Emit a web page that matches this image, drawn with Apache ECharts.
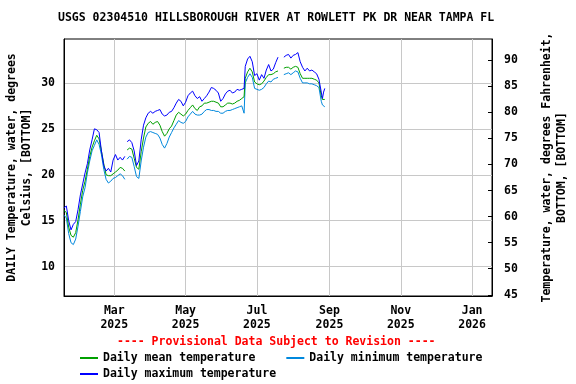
<!DOCTYPE html>
<html><head><meta charset="utf-8">
<script src="https://cdn.jsdelivr.net/npm/echarts@6/dist/echarts.min.js"></script>
<style>html,body{margin:0;padding:0;background:#fff}#c{width:576px;height:384px}</style>
</head><body><div id="c"></div>
<script>
const dates = ['2025-01-17','2025-01-19','2025-01-21','2025-01-23','2025-01-25','2025-01-27','2025-01-29','2025-01-31',
'2025-02-02','2025-02-04','2025-02-06','2025-02-08','2025-02-10','2025-02-12','2025-02-14','2025-02-16','2025-02-18','2025-02-20','2025-02-22','2025-02-24','2025-02-26','2025-02-28',
'2025-03-02','2025-03-04','2025-03-06','2025-03-08','2025-03-10','2025-03-11','2025-03-12','2025-03-14','2025-03-16','2025-03-18','2025-03-20','2025-03-22','2025-03-24','2025-03-26','2025-03-28','2025-03-30',
'2025-04-01','2025-04-03','2025-04-05','2025-04-07','2025-04-09','2025-04-11','2025-04-13','2025-04-15','2025-04-17','2025-04-19','2025-04-21','2025-04-23','2025-04-25','2025-04-27','2025-04-29',
'2025-05-01','2025-05-03','2025-05-05','2025-05-07','2025-05-09','2025-05-11','2025-05-13','2025-05-15','2025-05-17','2025-05-19','2025-05-21','2025-05-23','2025-05-25','2025-05-27','2025-05-29','2025-05-31',
'2025-06-02','2025-06-04','2025-06-06','2025-06-08','2025-06-10','2025-06-12','2025-06-14','2025-06-16','2025-06-18','2025-06-20','2025-06-21','2025-06-23','2025-06-25','2025-06-27','2025-06-29',
'2025-07-01','2025-07-03','2025-07-05','2025-07-07','2025-07-09','2025-07-11','2025-07-13','2025-07-15','2025-07-17','2025-07-19','2025-07-21','2025-07-24','2025-07-26','2025-07-28','2025-07-30',
'2025-08-01','2025-08-03','2025-08-05','2025-08-07','2025-08-09','2025-08-11','2025-08-13','2025-08-15','2025-08-17','2025-08-19','2025-08-21','2025-08-23','2025-08-25','2025-08-26','2025-08-27','2025-08-28'];

const maxTemp = [16.4,16.6,15.0,14.0,14.6,14.9,16.2,17.8,
19.0,20.2,21.2,22.7,23.8,25.0,24.9,24.6,22.6,21.0,20.4,20.7,20.3,21.6,
22.2,21.6,21.9,21.6,22.0,null,23.6,23.8,23.5,22.6,21.0,21.5,23.8,25.4,26.2,26.7,
26.9,26.7,26.9,27.0,27.1,26.6,26.4,26.5,26.8,26.9,27.3,27.8,28.2,28.0,27.5,
27.9,28.6,28.9,29.1,28.6,28.3,28.5,28.0,28.3,28.6,29.0,29.5,29.4,29.2,28.9,28.0,
28.3,28.8,29.1,29.2,28.9,29.0,29.3,29.2,29.3,29.4,31.8,32.6,32.9,32.3,30.8,
31.0,30.3,30.9,30.5,31.4,32.0,31.3,31.5,32.2,32.8,null,32.8,33.0,33.1,32.7,
33.0,33.1,33.3,32.3,31.7,31.3,31.6,31.3,31.4,31.2,31.0,30.4,29.0,28.3,29.0,29.4];

const meanTemp = [16.1,15.9,14.3,13.4,13.2,13.7,15.1,16.8,
18.3,19.3,20.6,22.0,23.0,23.7,24.3,23.9,22.6,21.2,20.0,19.9,19.9,20.1,
20.3,20.5,20.8,20.7,20.4,null,22.7,22.9,22.8,21.8,20.8,20.6,22.5,24.0,25.2,25.6,
25.8,25.5,25.7,25.8,25.4,24.7,24.2,24.5,25.0,25.3,25.9,26.5,26.8,26.6,26.4,
26.6,27.0,27.3,27.6,27.2,27.0,27.4,27.5,27.8,27.8,27.9,28.0,28.0,27.9,27.8,27.4,
27.4,27.6,27.8,27.8,27.7,27.8,28.0,28.1,28.3,28.5,30.5,31.2,31.6,31.2,30.1,
29.9,29.8,29.9,30.2,30.6,30.9,30.9,31.0,31.2,31.3,null,31.6,31.7,31.7,31.5,
31.7,31.8,31.7,31.0,30.5,30.5,30.5,30.5,30.5,30.4,30.3,30.0,28.6,28.2,28.2,28.2];

const minTemp = [15.6,15.3,13.6,12.6,12.4,13.0,14.4,16.0,
17.6,18.6,20.2,21.5,22.6,23.2,23.8,23.3,22.2,20.6,19.5,19.1,19.3,19.6,
19.7,19.9,20.1,19.9,19.5,null,21.7,22.0,21.9,20.9,19.8,19.6,21.5,23.0,24.1,24.6,
24.7,24.6,24.5,24.4,24.0,23.3,22.9,23.4,24.1,24.6,25.1,25.5,25.9,25.7,25.6,
25.8,26.3,26.6,26.9,26.6,26.5,26.5,26.6,26.9,27.1,27.1,27.0,27.0,26.9,26.9,26.7,
26.7,26.9,27.0,27.0,27.1,27.2,27.3,27.4,27.5,26.7,30.0,30.6,31.0,30.6,29.4,
29.3,29.2,29.3,29.5,29.9,30.2,30.1,30.4,30.5,30.6,null,30.9,31.0,31.1,30.9,
31.1,31.3,31.2,30.5,30.0,30.0,30.0,29.9,29.9,29.8,29.7,29.5,28.0,27.6,27.5,27.4];

const monthTicks = ['2025-03-01','2025-05-01','2025-07-01','2025-09-01','2025-11-01','2026-01-01'];
const celsiusTicks = [10,15,20,25,30];
const fahrenheitTicks = [45,50,55,60,65,70,75,80,85,90];
const monthNames = ['Jan','Feb','Mar','Apr','May','Jun','Jul','Aug','Sep','Oct','Nov','Dec'];

function ts(s){const p=s.split('-');return Date.UTC(+p[0],+p[1]-1,+p[2]);}
const FONT = 'DejaVu Sans Mono';
const txt = {fontFamily: FONT, fontWeight: 'bold', fontSize: 11.5, color: '#000'};

const chart = echarts.init(document.getElementById('c'), null, {renderer:'canvas'});
const pair = arr => dates.map((d,i)=>[ts(d), arr[i]]);
chart.setOption({
  animation: false,
  backgroundColor: '#fff',
  title: [
    {text: 'USGS 02304510 HILLSBOROUGH RIVER AT ROWLETT PK DR NEAR TAMPA FL', left: 58, top: 12, padding: 0,
     textStyle: Object.assign({}, txt)},
    {text: '---- Provisional Data Subject to Revision ----', left: 117, top: 336, padding: 0,
     textStyle: Object.assign({}, txt, {color: '#ff0000'})}
  ],
  legend: [
    {left: 80, top: 352, padding: 0, itemGap: 31, itemWidth: 18, itemHeight: 2, icon: 'rect',
     data: ['Daily mean temperature','Daily minimum temperature'], textStyle: Object.assign({}, txt)},
    {left: 80, top: 368, padding: 0, itemWidth: 18, itemHeight: 2, icon: 'rect',
     data: ['Daily maximum temperature'], textStyle: Object.assign({}, txt)}
  ],
  grid: {left: 64, top: 39, width: 428, height: 257, show: true, borderColor: '#000', borderWidth: 1,
         backgroundColor: 'transparent', containLabel: false, outerBoundsMode: 'none'},
  xAxis: {
    type: 'value', min: ts('2025-01-17'), max: ts('2026-01-18'),
    axisLine: {show: true, lineStyle: {color: '#000'}},
    axisTick: {show: false, customValues: monthTicks.map(ts)},
    splitLine: {show: true, lineStyle: {color: '#c8c8c8', width: 1}},
    axisLabel: Object.assign({}, txt, {customValues: monthTicks.map(ts), margin: 8, lineHeight: 14,
      formatter: v => { const d = new Date(v); return monthNames[d.getUTCMonth()] + '\n' + d.getUTCFullYear(); }})
  },
  yAxis: [
    {type: 'value', position: 'left', min: 6.8, max: 34.78,
     name: 'DAILY Temperature, water, degrees\nCelsius, [BOTTOM]', nameLocation: 'middle', nameRotate: 90, nameGap: 29,
     nameMoveOverlap: false,
     nameTextStyle: Object.assign({}, txt, {lineHeight: 15}),
     axisLine: {show: true, lineStyle: {color: '#000'}},
     axisTick: {show: false, customValues: celsiusTicks},
     splitLine: {show: true, lineStyle: {color: '#c8c8c8', width: 1}},
     axisLabel: Object.assign({}, txt, {customValues: celsiusTicks, margin: 9})},
    {type: 'value', position: 'right', min: 44.77, max: 94.06,
     name: 'Temperature, water, degrees Fahrenheit,\nBOTTOM, [BOTTOM]', nameLocation: 'middle', nameRotate: 90, nameGap: 48,
     nameTextStyle: Object.assign({}, txt, {lineHeight: 15}),
     axisLine: {show: true, lineStyle: {color: '#000'}},
     axisTick: {show: true, inside: true, length: 4, customValues: fahrenheitTicks, lineStyle: {color: '#000'}},
     splitLine: {show: false},
     axisLabel: Object.assign({}, txt, {customValues: fahrenheitTicks, margin: 12})}
  ],
  series: [
    {name: 'Daily minimum temperature', type: 'line', data: pair(minTemp), showSymbol: false, symbol: 'none',
     connectNulls: false, color: '#0088dd', lineStyle: {width: 1, color: '#0088dd'}},
    {name: 'Daily mean temperature', type: 'line', data: pair(meanTemp), showSymbol: false, symbol: 'none',
     connectNulls: false, color: '#00a000', lineStyle: {width: 1, color: '#00a000'}},
    {name: 'Daily maximum temperature', type: 'line', data: pair(maxTemp), showSymbol: false, symbol: 'none',
     connectNulls: false, color: '#0000ff', lineStyle: {width: 1, color: '#0000ff'}}
  ]
});
</script></body></html>
